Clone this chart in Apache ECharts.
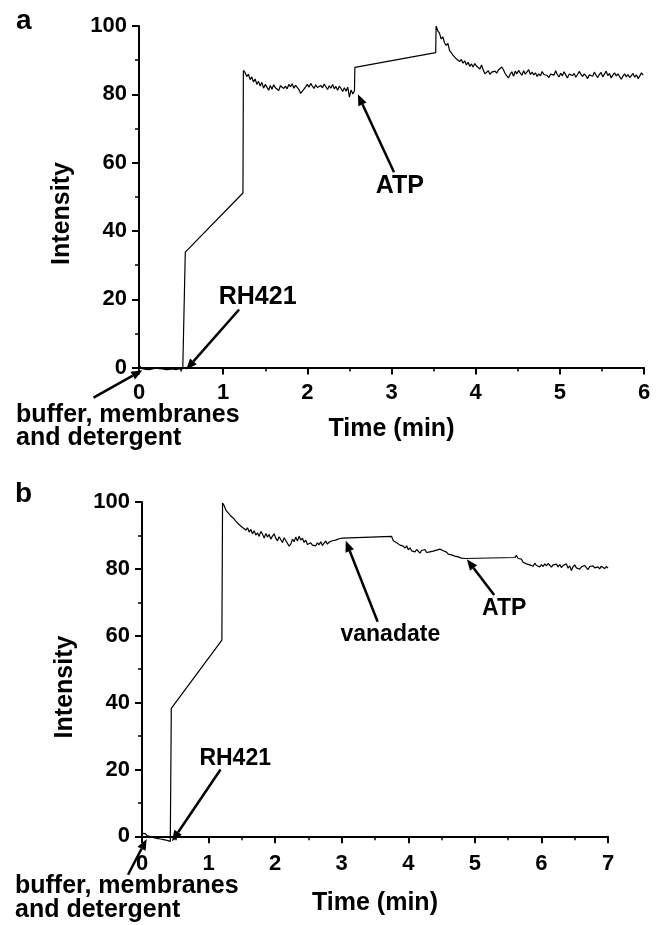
<!DOCTYPE html>
<html>
<head>
<meta charset="utf-8">
<script src="https://cdn.jsdelivr.net/npm/echarts@6/dist/echarts.min.js"></script>
<style>
  html, body { margin: 0; padding: 0; background: #fff; }
  #chart { width: 667px; height: 925px; }
</style>
</head>
<body>
<div id="chart"></div>
<script>
// ---- panel a : intensity vs time, sampled every 0.02 min ----
const aBase = [0.6, 0.2, -0.3, 0.1, -0.5, -0.2, -0.6, -0.1, -0.4, -0.7, -0.2, -0.5, -0.3, -0.8,
  -0.4, -0.1, -0.6, -0.3, -0.5, -0.9, -0.4, -0.2, -0.6, -0.5, -0.3, -0.7, -0.4, -0.6] // from 0
const aRamp = [[0.55, 33.8], [1.235, 51.1]]
const aPlateau = [ // from 1.24
  87.0, 86.4, 85.2, 85.9, 84.3, 85.1, 83.6, 84.5, 82.9, 83.8,
  82.4, 83.5, 81.8, 82.9, 82.1, 81.2, 82.6, 81.5, 82.8, 81.9,
  82.3, 81.1, 82.5, 83.0, 81.7, 82.4, 81.6, 82.9, 82.2, 83.1,
  81.8, 82.6, 82.0, 81.4, 80.3, 80.6, 81.5, 82.2, 82.9, 82.1,
  83.2, 82.4, 81.7, 82.8, 82.0, 81.5, 82.6, 81.9, 83.0, 82.2,
  81.4, 82.5, 81.8, 82.9, 81.6, 82.3, 81.2, 82.4, 81.7, 80.8,
  81.9, 80.9, 82.1, 79.2, 81.3, 80.1, 81.0]
const aGap = [[2.565, 87.9], [3.525, 92.2]]
const aAfterAtp = [ // from 3.53
  100.0, 98.6, 97.9, 96.2, 96.8, 95.1, 94.3, 94.9, 92.8, 92.2,
  91.5, 92.0, 90.4, 90.9, 89.6, 90.2, 89.1, 89.8, 88.6, 89.4,
  88.2, 88.9, 88.0, 89.0, 88.3, 88.8, 87.4, 88.6, 87.1, 86.0,
  85.7, 86.9, 85.8, 86.5, 86.0, 86.8, 86.2, 87.1, 87.6, 88.0,
  87.2, 86.1, 85.4, 84.8, 85.9, 86.6, 85.3, 86.8, 86.0, 87.0,
  86.2, 85.6, 86.9, 85.9, 86.4, 87.2, 85.8, 86.5, 85.7, 86.3,
  85.2, 86.0, 85.4, 86.7, 85.8, 86.2, 85.5, 84.9, 85.9, 86.4,
  85.6, 86.9, 85.8, 85.1, 86.2, 85.4, 86.6, 85.7, 84.8, 85.9,
  86.3, 85.5, 86.1, 85.0, 85.8, 86.7, 85.9, 85.2, 86.0, 85.4,
  84.6, 85.7, 86.2, 85.3, 86.5, 85.6, 84.9, 85.8, 86.4, 85.1,
  85.9, 86.8, 85.5, 86.1, 84.8, 85.6, 86.3, 85.4, 86.0, 85.2,
  84.4, 85.3, 86.0, 85.1, 85.8, 84.9, 85.5, 86.1, 85.0, 85.7,
  84.6, 85.4, 86.3, 85.6]

// ---- panel b : sampled every 0.025 min ----
const bBase = [0.9, 0.5, 0.8, 0.2, 0.4, -0.1, 0.2, -0.4, -0.2, -0.6, -0.3, -0.8, -0.6, -1.0,
  -0.8, -1.2, -1.1, -1.5] // from 0
const bRamp = [[0.44, 38.3], [1.2, 58.7]]
const bPeak = [ // from 1.21
  99.7, 98.9, 97.6, 97.9, 96.4, 95.8, 96.2, 94.9,
  94.3, 94.8, 93.2, 93.7, 92.4, 92.9, 91.6, 92.3,
  91.0, 91.8, 90.5, 91.4, 90.1, 90.8, 89.7, 91.2,
  90.4, 89.2, 90.6, 89.5, 90.3, 88.9, 89.8, 90.5,
  89.1, 88.4, 89.6, 88.7, 87.9, 89.3, 88.5, 88.0,
  86.8, 87.4, 88.9, 88.1, 89.5, 88.3, 89.8, 88.6,
  89.2, 87.9, 88.6, 87.3, 86.9, 87.8, 87.1, 87.6,
  86.9, 87.8, 87.2, 88.1, 87.0, 87.7, 88.3, 87.4,
  88.0, 87.5, 88.4, 87.9, 88.6, 88.2, 89.0, 88.5,
  89.2, 89.4]
const bVanGap = [[3.75, 89.7]]
const bAfterVan = [ // from 3.775
  88.4, 88.9, 87.8, 88.2, 87.1, 87.6, 86.8,
  86.2, 86.9, 85.7, 86.3, 85.4, 85.9, 85.1, 85.8,
  85.3, 84.7, 85.5, 85.0, 85.8, 84.9, 85.4, 85.1,
  84.6, 85.3, 84.8, 85.6, 85.2, 85.9, 86.1, 85.4,
  85.9, 85.0, 84.4, 84.9, 84.2, 84.7, 83.8, 84.3,
  83.6, 83.9, 83.2, 83.5, 83.1]
const bAtpGap = [[5.6, 83.4]]
const bAfterAtp = [ // from 5.625
  84.0, 83.1, 82.6, 82.9, 82.0, 82.4, 81.5,
  81.9, 81.2, 81.6, 80.8, 81.7, 81.0, 81.4, 80.6,
  81.3, 80.7, 81.5, 80.9, 81.6, 81.1, 80.5, 81.2,
  80.8, 81.4, 80.6, 81.3, 80.4, 81.0, 80.7, 81.5,
  80.2, 80.9, 79.5, 80.6, 81.2, 80.3, 80.8, 79.9,
  80.6, 80.1, 81.0, 80.4, 79.8, 80.7, 80.2, 80.9,
  80.3, 79.9, 80.6, 80.0, 80.8, 80.4, 80.1, 80.7,
  80.2]

const yMajor = [0, 20, 40, 60, 80, 100]
const yMinor = [10, 30, 50, 70, 90]

// annotations: [label, labelX, labelY, tailX, tailY, headX, headY]
const notesA = [
  ['RH421', 1.41, 20.6, 1.19, 17.0, 0.56, -0.6],
  ['ATP', 3.10, 53.0, 3.03, 57.2, 2.60, 80.0]
]
const notesB = [
  ['RH421', 1.40, 23.2, 1.18, 20.0, 0.45, -1.5],
  ['vanadate', 3.73, 60.2, 3.54, 64.2, 3.06, 88.4],
  ['ATP', 5.44, 68.0, 5.29, 72.2, 4.88, 82.9]
]
const bufferA = [-0.54, -8.8, 0.04, -0.8]
const bufferB = [-0.21, -11.5, 0.07, -0.8]

function seq (vals, t0, dt) {
  return vals.map((v, i) => [+(t0 + i * dt).toFixed(3), v])
}

const dataA = [].concat(seq(aBase, 0, 0.02), aRamp, seq(aPlateau, 1.24, 0.02), aGap, seq(aAfterAtp, 3.53, 0.02))
const dataB = [].concat(seq(bBase, 0, 0.025), bRamp, seq(bPeak, 1.21, 0.025), bVanGap,
  seq(bAfterVan, 3.775, 0.025), bAtpGap, seq(bAfterAtp, 5.625, 0.025))

const FONT = '"Liberation Sans", Arial, sans-serif'
const black = '#000'

function xAxisOf (grid, max, gap) {
  return {
    type: 'value', gridIndex: grid, min: 0, max: max, interval: 1,
    name: 'Time (min)', nameLocation: 'middle', nameGap: gap,
    nameTextStyle: { fontFamily: FONT, fontWeight: 'bold', fontSize: 25, color: black },
    axisLine: { lineStyle: { color: black, width: 2 } },
    axisTick: { length: 7, lineStyle: { color: black, width: 2 } },
    minorTick: { show: true, splitNumber: 2, length: 4, lineStyle: { color: black, width: 1.5 } },
    axisLabel: { margin: 11, fontFamily: FONT, fontWeight: 'bold', fontSize: 22, color: black },
    splitLine: { show: false }
  }
}

function yAxesOf (grid, min) {
  return [{
    type: 'value', gridIndex: grid, min: min, max: 100, position: 'left',
    name: 'Intensity', nameLocation: 'middle', nameRotate: 90, nameGap: 64,
    nameTextStyle: { fontFamily: FONT, fontWeight: 'bold', fontSize: 25, color: black, padding: [0, 30, 0, 0] },
    axisLine: { show: true, lineStyle: { color: black, width: 2 } },
    axisTick: { show: true, length: 7, customValues: yMajor, lineStyle: { color: black, width: 2 } },
    axisLabel: { margin: 12, customValues: yMajor, fontFamily: FONT, fontWeight: 'bold', fontSize: 22, color: black },
    splitLine: { show: false }
  }, {
    // minor ticks only
    type: 'value', gridIndex: grid, min: min, max: 100, position: 'left', offset: 0,
    axisLine: { show: false },
    axisTick: { show: true, length: 4, customValues: yMinor, lineStyle: { color: black, width: 1.5 } },
    axisLabel: { show: false },
    splitLine: { show: false }
  }]
}

const chart = echarts.init(document.getElementById('chart'))
chart.setOption({
  animation: false,
  backgroundColor: '#fff',
  grid: [
    { left: 139, top: 26, width: 505, height: 345 },
    { left: 142, top: 502, width: 466, height: 340 }
  ],
  xAxis: [xAxisOf(0, 6, 46), xAxisOf(1, 7, 49)],
  yAxis: yAxesOf(0, -1).concat(yAxesOf(1, -1.7)),
  series: [
    { type: 'line', xAxisIndex: 0, yAxisIndex: 0, data: dataA, showSymbol: false,
      lineStyle: { color: black, width: 1.2 } },
    { type: 'line', xAxisIndex: 1, yAxisIndex: 2, data: dataB, showSymbol: false,
      lineStyle: { color: black, width: 1.2 } }
  ]
})

// arrows and labels, placed in data space
function arrow (p1, p2) {
  const dx = p2[0] - p1[0]
  const dy = p2[1] - p1[1]
  const L = Math.hypot(dx, dy)
  const ux = dx / L
  const uy = dy / L
  const hl = 11
  const hw = 4.5
  const bx = p2[0] - ux * hl
  const by = p2[1] - uy * hl
  return [
    { type: 'line', shape: { x1: p1[0], y1: p1[1], x2: bx, y2: by }, style: { stroke: black, lineWidth: 2.5 } },
    { type: 'polygon', shape: { points: [p2, [bx - uy * hw, by + ux * hw], [bx + uy * hw, by - ux * hw]] }, style: { fill: black } }
  ]
}

function text (str, x, y, size, align) {
  return {
    type: 'text', x: x, y: y,
    style: { text: str, fill: black, font: 'bold ' + size + 'px ' + FONT, textAlign: align || 'center', textVerticalAlign: 'middle' }
  }
}

const g = []
function addNotes (notes, grid, size) {
  notes.forEach(n => {
    const lp = chart.convertToPixel({ gridIndex: grid }, [n[1], n[2]])
    const tp = chart.convertToPixel({ gridIndex: grid }, [n[3], n[4]])
    const hp = chart.convertToPixel({ gridIndex: grid }, [n[5], n[6]])
    g.push(text(n[0], lp[0], lp[1], size))
    g.push(...arrow(tp, hp))
  })
}
addNotes(notesA, 0, 25)
addNotes(notesB, 1, 23)

const ba = chart.convertToPixel({ gridIndex: 0 }, [bufferA[0], bufferA[1]])
const bah = chart.convertToPixel({ gridIndex: 0 }, [bufferA[2], bufferA[3]])
g.push(...arrow(ba, bah))
const bb = chart.convertToPixel({ gridIndex: 1 }, [bufferB[0], bufferB[1]])
const bbh = chart.convertToPixel({ gridIndex: 1 }, [bufferB[2], bufferB[3]])
g.push(...arrow(bb, bbh))

g.push(text('buffer, membranes', 16, 415, 25, 'left'))
g.push(text('and detergent', 16, 438, 25, 'left'))
g.push(text('buffer, membranes', 15, 886, 25, 'left'))
g.push(text('and detergent', 15, 910, 25, 'left'))
g.push(text('a', 16, 21, 28, 'left'))
g.push(text('b', 15, 494, 28, 'left'))

chart.setOption({ graphic: g })
</script>
</body>
</html>
